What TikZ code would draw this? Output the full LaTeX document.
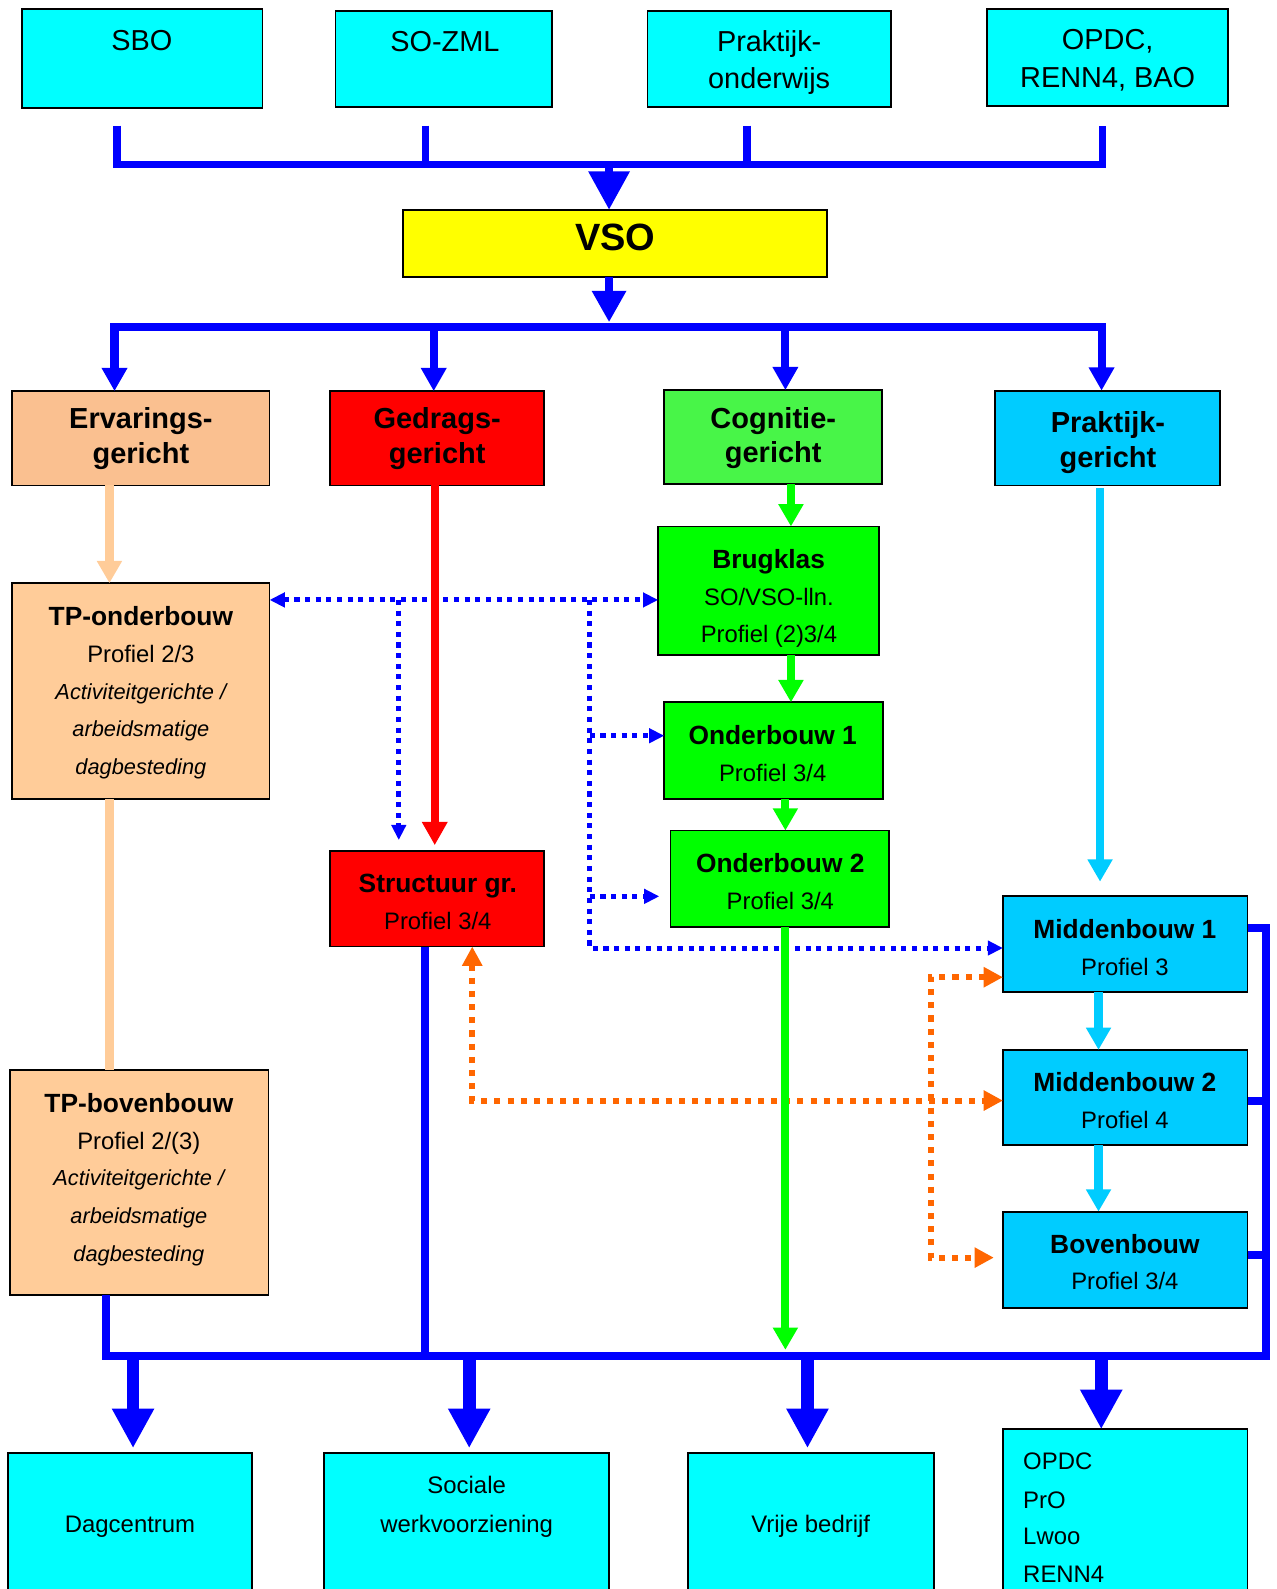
\documentclass[tikz,border=0pt]{standalone}
\usepackage{fontspec}
\setmainfont{Liberation Sans}
\usetikzlibrary{arrows.meta,calc}

\definecolor{cyanbox}{RGB}{0,255,255}
\definecolor{vsoyel}{RGB}{255,255,0}
\definecolor{ervpeach}{RGB}{250,192,144}
\definecolor{tppeach}{RGB}{255,204,153}
\definecolor{gedred}{RGB}{255,0,0}
\definecolor{coggreen}{RGB}{72,245,72}
\definecolor{brgreen}{RGB}{0,255,0}
\definecolor{skyblue}{RGB}{0,204,255}
\definecolor{busblue}{RGB}{0,0,255}
\definecolor{dotorange}{RGB}{255,102,0}

\tikzset{
  box/.style={draw=black, line width=1.8pt, rectangle, inner sep=0pt, outer sep=0pt, anchor=north west},
  tx/.style={anchor=base, inner sep=0pt, outer sep=0pt},
  ftop/.style={tx, font=\fontsize{28.5}{34}\selectfont},
  fhead/.style={tx, font=\bfseries\fontsize{28.6}{34}\selectfont},
  fsub/.style={tx, font=\bfseries\fontsize{26}{31}\selectfont},
  fprof/.style={tx, font=\fontsize{23.5}{28}\selectfont},
  fital/.style={tx, font=\itshape\fontsize{21.5}{26}\selectfont},
  fbot/.style={tx, font=\fontsize{23.6}{28}\selectfont},
  bus/.style={draw=busblue, line width=7.5pt},
  buseight/.style={draw=busblue, line width=8pt},
  dotb/.style={draw=busblue, line width=5pt, dash pattern=on 5pt off 5.5pt},
  doto/.style={draw=dotorange, line width=6pt, dash pattern=on 6pt off 7pt},
  dtip/.tip={Triangle[length=15pt,width=14pt]},
  otip/.tip={Triangle[length=19pt,width=19pt]},
  ctip/.tip={Triangle[length=22pt,width=23.5pt]},
  stip/.tip={Triangle[length=23pt,width=24pt]},
  btip/.tip={Triangle[length=39pt,width=39pt]},
}

\newcommand\mkbox[6]{\node[box, fill=#2, minimum width={#5-#3}, minimum height={#6-#4}] (#1) at (#3,#4) {};}

\begin{document}
\begin{tikzpicture}[x=1pt,y=-1pt]
\useasboundingbox (0,0) rectangle (1260,1568);
\clip (0,0) rectangle (1260,1568);

% ---------- boxes ----------
\mkbox{sbo}{cyanbox}{22}{9}{259}{106.5}
\mkbox{sozml}{cyanbox}{331}{10.5}{545}{105.5}
\mkbox{prow}{cyanbox}{639}{10.5}{879}{105.5}
\mkbox{opdct}{cyanbox}{974}{9}{1212}{104.5}
\mkbox{vso}{vsoyel}{398}{207}{816}{273.5}
\mkbox{erv}{ervpeach}{12}{386}{266}{479}
\mkbox{ged}{gedred}{325.5}{386}{537}{479}
\mkbox{cog}{coggreen}{655}{385}{870.5}{478}
\mkbox{prg}{skyblue}{982}{385.5}{1204}{479}
\mkbox{tpo}{tppeach}{12}{575.5}{266}{788.5}
\mkbox{tpb}{tppeach}{10}{1056}{265}{1278}
\mkbox{str}{gedred}{325.5}{840}{537}{934}
\mkbox{brug}{brgreen}{649.5}{519.5}{867}{646.5}
\mkbox{ob1}{brgreen}{655.5}{693}{871}{788.5}
\mkbox{ob2}{brgreen}{661.6}{819.6}{877}{915}
\mkbox{mb1}{skyblue}{989.7}{884}{1231}{978.5}
\mkbox{mb2}{skyblue}{989.7}{1036}{1231}{1130}
\mkbox{bov}{skyblue}{989.7}{1195.6}{1231}{1291}
\mkbox{dag}{cyanbox}{8}{1434}{248.5}{1620}
\mkbox{swv}{cyanbox}{320}{1434}{601}{1620}
\mkbox{vrij}{cyanbox}{678.5}{1434}{921.6}{1620}
\mkbox{opdcb}{cyanbox}{989.7}{1410.3}{1231}{1620}

% ---------- texts ----------
\node[ftop] (sbo-t) at (140,49.5) {SBO};
\node[ftop] (sozml-t) at (439,50.5) {SO-ZML};
\node[ftop] (prow-t1) at (759,51) {Praktijk-};
\node[ftop] (prow-t2) at (759,87.2) {onderwijs};
\node[ftop] (opdct-t1) at (1093,49.3) {OPDC,};
\node[ftop] (opdct-t2) at (1093,86.2) {RENN4, BAO};
\node[tx, font=\bfseries\fontsize{37.5}{44}\selectfont] (vso-t) at (607,247.3) {VSO};

\node[fhead] (erv-t1) at (139,423.3) {Ervarings-};
\node[fhead] (erv-t2) at (139,457) {gericht};
\node[fhead] (ged-t1) at (431.4,423.3) {Gedrags-};
\node[fhead] (ged-t2) at (431.4,457) {gericht};
\node[fhead] (cog-t1) at (763,422.5) {Cognitie-};
\node[fhead] (cog-t2) at (763,456) {gericht};
\node[fhead] (prg-t1) at (1093.3,427) {Praktijk-};
\node[fhead] (prg-t2) at (1093.3,461.3) {gericht};

\node[fsub] (tpo-t1) at (139,617.3) {TP-onderbouw};
\node[fprof] (tpo-t2) at (139,653.5) {Profiel 2/3};
\node[fital] (tpo-t3) at (139,690) {Activiteitgerichte /};
\node[fital] (tpo-t4) at (139,726.8) {arbeidsmatige};
\node[fital] (tpo-t5) at (139,764) {dagbesteding};

\node[fsub] (tpb-t1) at (137,1097.5) {TP-bovenbouw};
\node[fprof] (tpb-t2) at (137,1134) {Profiel 2/(3)};
\node[fital] (tpb-t3) at (137,1170) {Activiteitgerichte /};
\node[fital] (tpb-t4) at (137,1207) {arbeidsmatige};
\node[fital] (tpb-t5) at (137,1245) {dagbesteding};

\node[fsub] (str-t1) at (432,880.4) {Structuur gr.};
\node[fprof] (str-t2) at (432,917.6) {Profiel 3/4};

\node[fsub] (brug-t1) at (758.5,560.6) {Brugklas};
\node[fprof] (brug-t2) at (758.8,597.6) {SO/VSO-lln.};
\node[fprof] (brug-t3) at (758.8,634) {Profiel (2)3/4};
\node[fsub] (ob1-t1) at (762.5,734.4) {Onderbouw 1};
\node[fprof] (ob1-t2) at (762.5,771.4) {Profiel 3/4};
\node[fsub] (ob2-t1) at (770,861.3) {Onderbouw 2};
\node[fprof] (ob2-t2) at (770,897.5) {Profiel 3/4};

\node[fsub] (mb1-t1) at (1110,926.5) {Middenbouw 1};
\node[fprof] (mb1-t2) at (1110,962.7) {Profiel 3};
\node[fsub] (mb2-t1) at (1110,1077.2) {Middenbouw 2};
\node[fprof] (mb2-t2) at (1110,1113.3) {Profiel 4};
\node[fsub] (bov-t1) at (1110,1236.6) {Bovenbouw};
\node[fprof] (bov-t2) at (1110,1272.8) {Profiel 3/4};

\node[fbot] (dag-t) at (128.3,1512) {Dagcentrum};
\node[fbot] (swv-t1) at (460.5,1474) {Sociale};
\node[fbot] (swv-t2) at (460.5,1512) {werkvoorziening};
\node[fbot] (vrij-t) at (800,1512) {Vrije bedrijf};
\node[fbot, anchor=base west] (opdcb-t1) at (1009.7,1450.4) {OPDC};
\node[fbot, anchor=base west] (opdcb-t2) at (1009.7,1488.2) {PrO};
\node[fbot, anchor=base west] (opdcb-t3) at (1009.7,1524.4) {Lwoo};
\node[fbot, anchor=base west] (opdcb-t4) at (1009.7,1561.2) {RENN4};

% ---------- coordinates ----------
\coordinate (s1) at (115.5,124);
\coordinate (s2) at (420,124);
\coordinate (s3) at (737,124);
\coordinate (s4) at (1088,124);
\coordinate (tb1) at (115.5,162.3);
\coordinate (tb4) at (1088,162.3);
\coordinate (tbm) at (601,162.3);
\coordinate (b2l) at (113,322.5);
\coordinate (b2a) at (428,322.5);
\coordinate (b2m) at (601,322.5);
\coordinate (b2b) at (775,322.5);
\coordinate (b2r) at (1087,322.5);
\coordinate (pe) at (108,600);
\coordinate (rx) at (429,600);
\coordinate (gx1) at (780.5,600);
\coordinate (gx2) at (775,600);
\coordinate (cx1) at (1085.5,600);
\coordinate (cx2) at (1084,600);
\coordinate (bl) at (105,1338.5);
\coordinate (br) at (1249,1338.5);
\coordinate (rt) at (1249,916);
\coordinate (rm) at (1249,1086);
\coordinate (rb) at (1249,1238.3);
\coordinate (sx) at (419,1338.5);
\coordinate (gb) at (775,1338.5);
\coordinate (a1) at (131.3,1338.5);
\coordinate (a2) at (463,1338.5);
\coordinate (a3) at (796.8,1338.5);
\coordinate (a4) at (1086.7,1338.5);
\coordinate (dy) at (582,592);
\coordinate (dv) at (393.5,592);
\coordinate (dc) at (582,935.5);
\coordinate (d1) at (582,726);
\coordinate (d2) at (582,884.5);
\coordinate (o1) at (466,1086);
\coordinate (o2) at (918.6,964.3);
\coordinate (o3) at (918.6,1241);

% ---------- dotted connectors ----------
\draw[dotb, dtip-dtip] (tpo.east |- dy) -- (brug.west |- dy);
\draw[dotb, -dtip] (dv) -- ($(str.north -| dv)+(0,-11)$);
\draw[dotb, -dtip] (dy) -- (dc) -- (mb1.west |- dc);
\draw[dotb, -dtip] (d1) -- (ob1.west |- d1);
\draw[dotb, -dtip] (d2) -- ($(ob2.west |- d2)+(-11,0)$);
\draw[doto, otip-otip] (str.south -| o1) -- (o1) -- (mb2.west |- o1);
\draw[doto, otip-otip] (mb1.west |- o2) -- (o2) -- (o3) -- ($(bov.west |- o3)+(-9,0)$);

% ---------- top bus ----------
\draw[bus] (s1) -- (tb1) -- (tb4) -- (s4);
\draw[bus] (s2) -- (s2 |- tb1);
\draw[bus] (s3) -- (s3 |- tb1);
\draw[draw=busblue, line width=8pt, -{Triangle[length=38pt,width=39pt]}] (tbm) -- (tbm |- vso.north);
\draw[draw=busblue, line width=8pt, -{Triangle[length=31pt,width=32pt]}] (vso.south -| b2m) -- ($(b2m)+(0,-4.5)$);
\draw[draw=busblue, line width=8pt, line cap=rect] (b2l) -- (b2r);
\draw[draw=busblue, line width=8pt, -stip] (b2l) -- (b2l |- erv.north);
\draw[draw=busblue, line width=8pt, -stip] (b2a) -- (b2a |- ged.north);
\draw[draw=busblue, line width=8pt, -stip] (b2b) -- (b2b |- cog.north);
\draw[draw=busblue, line width=8pt, -stip] (b2r) -- (b2r |- prg.north);

% ---------- coloured flows ----------
\draw[draw=tppeach, line width=8pt, -ctip] (erv.south -| pe) -- (tpo.north -| pe);
\draw[draw=tppeach, line width=8pt] (tpo.south -| pe) -- (tpb.north -| pe);
\draw[draw=gedred, line width=7.5pt, -stip] (ged.south -| rx) -- ($(str.north -| rx)+(0,-6)$);
\draw[draw=brgreen, line width=7.7pt, -ctip] (cog.south -| gx1) -- (brug.north -| gx1);
\draw[draw=brgreen, line width=7.7pt, -ctip] (brug.south -| gx1) -- (ob1.north -| gx1);
\draw[draw=brgreen, line width=7.7pt, -ctip] (ob1.south -| gx2) -- (ob2.north -| gx2);
\draw[draw=skyblue, line width=8pt, -ctip] ($(prg.south -| cx1)+(0,3)$) -- ($(mb1.north -| cx1)+(0,-14)$);
\draw[draw=skyblue, line width=8pt, -ctip] (mb1.south -| cx2) -- (mb2.north -| cx2);
\draw[draw=skyblue, line width=8pt, -ctip] (mb2.south -| cx2) -- (bov.north -| cx2);

% ---------- bottom bus ----------
\draw[buseight] (tpb.south -| bl) -- (bl) -- (br) -- (rt) -- (mb1.east |- rt);
\draw[buseight] (rm) -- (mb2.east |- rm);
\draw[buseight] (rb) -- (bov.east |- rb);
\draw[buseight] (str.south -| sx) -- (sx);
\draw[draw=brgreen, line width=7.7pt, -ctip] (ob2.south -| gx2) -- ($(gb)+(0,-6.5)$);
\draw[draw=busblue, line width=12.5pt, -btip] (a1) -- ($(dag.north -| a1)+(0,-5)$);
\draw[draw=busblue, line width=12.5pt, -btip] (a2) -- ($(swv.north -| a2)+(0,-5)$);
\draw[draw=busblue, line width=12.5pt, -btip] (a3) -- ($(vrij.north -| a3)+(0,-5)$);
\draw[draw=busblue, line width=12.5pt, -btip] (a4) -- (opdcb.north -| a4);
\end{tikzpicture}
\end{document}
